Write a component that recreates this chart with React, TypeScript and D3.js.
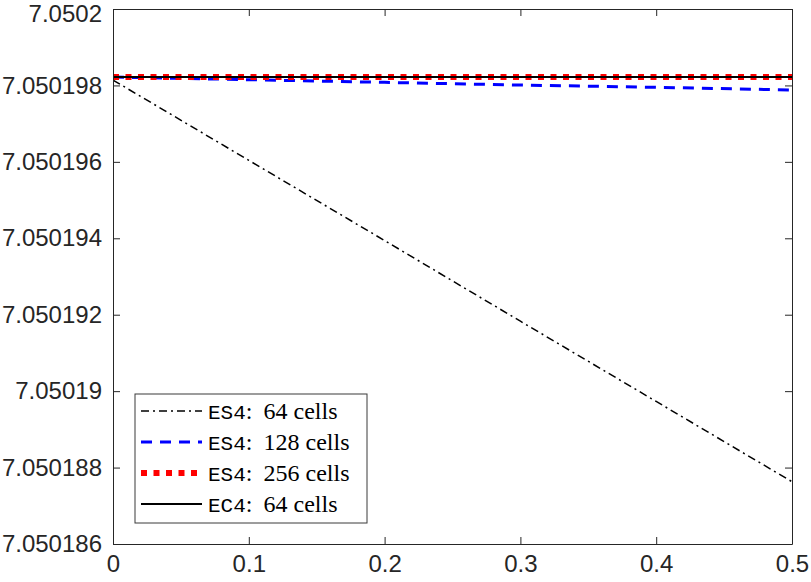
import { useEffect, useRef } from 'react'
import * as d3 from 'd3'

// time samples
const xs = [0, 0.1, 0.2, 0.3, 0.4, 0.5]

// series
const es4_64 = [7.05019814, 7.05019604, 7.05019394, 7.05019183, 7.05018973, 7.05018763]
const es4_128 = [7.05019822, 7.05019815, 7.05019808, 7.05019801, 7.05019795, 7.05019788]
const es4_256 = [7.05019822, 7.05019822, 7.05019822, 7.05019822, 7.05019822, 7.05019822]
const ec4_64 = [7.05019822, 7.05019822, 7.05019822, 7.05019822, 7.05019822, 7.05019822]

const xTicks = [0, 0.1, 0.2, 0.3, 0.4, 0.5]
const xTickLabels = ['0', '0.1', '0.2', '0.3', '0.4', '0.5']
const yTicks = [7.050186, 7.050188, 7.05019, 7.050192, 7.050194, 7.050196, 7.050198, 7.0502]
const yTickLabels = ['7.050186', '7.050188', '7.05019', '7.050192', '7.050194', '7.050196', '7.050198', '7.0502']

const seriesCode = ['ES4', 'ES4', 'ES4', 'EC4']
const seriesCells = ['64 cells', '128 cells', '256 cells', '64 cells']

const W = 811
const H = 582
const margin = { left: 113, right: 19, top: 9, bottom: 38 }
const axisColor = '#262626'

const styles = [
    { color: '#000000', width: 1.5, dash: '8,4,2,4' },
    { color: '#0000ff', width: 3, dash: '11,8' },
    { color: '#ff0000', width: 6, dash: '6,6.5' },
    { color: '#000000', width: 2, dash: null },
]

export default function App() {
    const ref = useRef<SVGSVGElement>(null)

    useEffect(() => {
        const svg = d3.select(ref.current)
        svg.selectAll('*').remove()

        const x = d3.scaleLinear().domain([0, 0.5]).range([margin.left, W - margin.right])
        const y = d3.scaleLinear().domain([7.050186, 7.0502]).range([H - margin.bottom, margin.top])

        const plotW = W - margin.left - margin.right
        const plotH = H - margin.top - margin.bottom

        svg.append('rect').attr('width', W).attr('height', H).attr('fill', '#fff')

        // lines
        const line = d3.line<number>()
            .x((_, i) => x(xs[i]))
            .y(d => y(d))

        const allSeries = [es4_64, es4_128, es4_256, ec4_64]
        const clip = svg.append('defs').append('clipPath').attr('id', 'plotclip')
        clip.append('rect')
            .attr('x', margin.left).attr('y', margin.top)
            .attr('width', plotW).attr('height', plotH)

        const g = svg.append('g').attr('clip-path', 'url(#plotclip)')
        allSeries.forEach((s, i) => {
            const st = styles[i]
            g.append('path')
                .attr('d', line(s))
                .attr('fill', 'none')
                .attr('stroke', st.color)
                .attr('stroke-width', st.width)
                .attr('stroke-dasharray', st.dash)
        })

        // axes (MATLAB box style, ticks inward)
        const tickLen = 7
        const xAxisB = d3.axisBottom(x).tickValues(xTicks).tickSizeInner(-tickLen).tickSizeOuter(0)
            .tickPadding(11).tickFormat((_, i) => xTickLabels[i])
        const xAxisT = d3.axisTop(x).tickValues(xTicks).tickSizeInner(-tickLen).tickSizeOuter(0)
            .tickFormat(() => '')
        const yAxisL = d3.axisLeft(y).tickValues(yTicks).tickSizeInner(-tickLen).tickSizeOuter(0)
            .tickPadding(11).tickFormat((_, i) => yTickLabels[i])
        const yAxisR = d3.axisRight(y).tickValues(yTicks).tickSizeInner(-tickLen).tickSizeOuter(0)
            .tickFormat(() => '')

        const axes = [
            svg.append('g').attr('transform', `translate(0,${H - margin.bottom})`).call(xAxisB),
            svg.append('g').attr('transform', `translate(0,${margin.top})`).call(xAxisT),
            svg.append('g').attr('transform', `translate(${margin.left},0)`).call(yAxisL),
            svg.append('g').attr('transform', `translate(${W - margin.right},0)`).call(yAxisR),
        ]
        axes.forEach(a => {
            a.select('.domain').attr('stroke', axisColor).attr('stroke-width', 1)
            a.selectAll('.tick line').attr('stroke', axisColor).attr('stroke-width', 1)
            a.selectAll('.tick text')
                .attr('fill', axisColor)
                .attr('font-family', '"Liberation Sans", Arial, sans-serif')
                .attr('font-size', 24)
        })
        // keep the top label inside the picture
        axes[2].selectAll('.tick text').filter((d: any) => d === 7.0502).attr('dy', '0.5em')

        // legend
        const lg = svg.append('g')
        const lx = 135, ly = 394, lw = 232, lh = 129
        lg.append('rect')
            .attr('x', lx).attr('y', ly).attr('width', lw).attr('height', lh)
            .attr('fill', '#fff').attr('stroke', '#3a3a3a').attr('stroke-width', 1)

        const rowY = d3.scaleLinear().domain([0, 3]).range([ly + 17, ly + 110])
        seriesCode.forEach((code, i) => {
            const st = styles[i]
            const cy = rowY(i)
            lg.append('line')
                .attr('x1', lx + 6).attr('x2', lx + 67)
                .attr('y1', cy).attr('y2', cy)
                .attr('stroke', st.color)
                .attr('stroke-width', st.width)
                .attr('stroke-dasharray', st.dash)
            const t = lg.append('text')
                .attr('x', lx + 73).attr('y', cy + 8)
                .attr('font-size', 24)
                .attr('fill', '#000')
            t.append('tspan')
                .attr('font-family', '"Liberation Mono", "DejaVu Sans Mono", monospace')
                .attr('font-size', 21)
                .text(code)
            t.append('tspan')
                .attr('font-family', '"Liberation Serif", "DejaVu Serif", serif')
                .text(':')
            t.append('tspan')
                .attr('dx', 11)
                .attr('font-family', '"Liberation Serif", "DejaVu Serif", serif')
                .text(seriesCells[i])
        })
    }, [])

    return (
        <div style={{ position: 'absolute', left: 0, top: 0 }}>
            <svg ref={ref} width={W} height={H} style={{ display: 'block' }} />
        </div>
    )
}
